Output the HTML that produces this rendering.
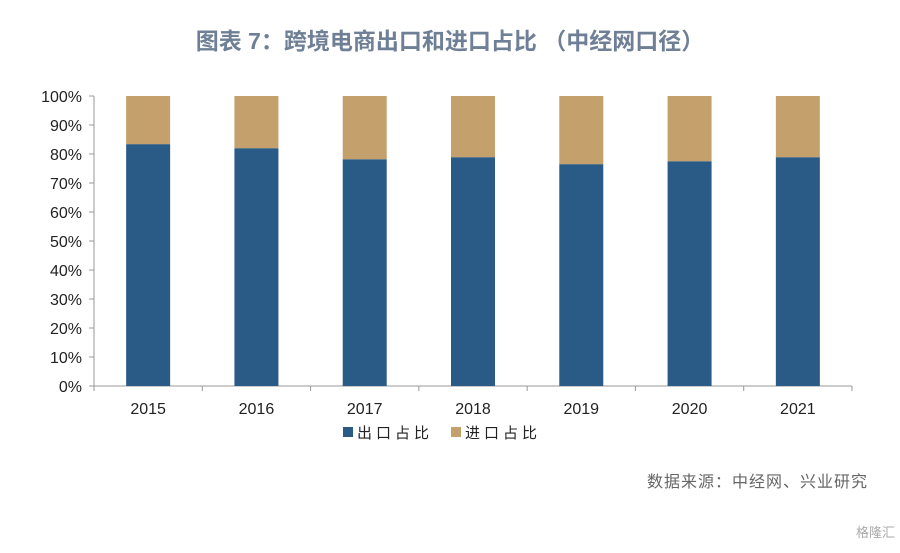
<!DOCTYPE html>
<html><head><meta charset="utf-8"><style>
body{margin:0;background:#fff;width:900px;height:548px;overflow:hidden}
svg{font-family:"Liberation Sans","Noto Sans CJK SC",sans-serif}
</style></head><body>
<svg width="900" height="548">
<text x="450" y="49" text-anchor="middle" font-size="23" font-weight="bold" fill="#6e7f96">图表 7：跨境电商出口和进口占比 （中经网口径）</text>
<g id="axes"></g><g id="bars"></g>
<g>
<rect x="343" y="427" width="10" height="10" fill="#2a5a86"/>
<text x="357" y="438" font-size="15" letter-spacing="4" fill="#222">出口占比</text>
<rect x="451" y="427" width="10" height="10" fill="#c4a06c"/>
<text x="465" y="438" font-size="15" letter-spacing="4" fill="#222">进口占比</text>
</g>
<text x="868" y="487" text-anchor="end" font-size="16" letter-spacing="1" fill="#666">数据来源：中经网、兴业研究</text>
<text x="895" y="537" text-anchor="end" font-size="13" fill="#aaa">格隆汇</text>
</svg>
<script>
const categories=["2015","2016","2017","2018","2019","2020","2021"];
const exportShare=[83.4,82.0,78.2,78.9,76.5,77.5,78.9];
const importShare=exportShare.map(v=>100-v);
const yTicks=[0,10,20,30,40,50,60,70,80,90,100];
const NS="http://www.w3.org/2000/svg";
const x0=94,x1=852,y0=386,y1=96;
const band=(x1-x0)/categories.length;
const y=v=>y0-(v/100)*(y0-y1);
const xc=i=>x0+band*(i+0.5);
function mk(t,a,p){const e=document.createElementNS(NS,t);for(const k in a)e.setAttribute(k,a[k]);p.appendChild(e);return e;}
const ax=document.getElementById('axes'),bs=document.getElementById('bars');
let l=mk('line',{x1:x0,y1:y1,x2:x0,y2:y0,stroke:'#999'},ax);


l=mk('line',{x1:x0,y1:y0,x2:x1,y2:y0,stroke:'#999'},ax);


yTicks.forEach(v=>{
 const tk=mk('line',{x1:x0-5,x2:x0,y1:y(v),y2:y(v),stroke:'#999'},ax);
 
 
 const t=mk('text',{x:x0-12,y:y(v)+6,'text-anchor':'end','font-size':16,fill:'#222'},ax);
 t.textContent=v+'%';
 
 
});
for(let i=0;i<=categories.length;i++){
 const tk=mk('line',{x1:x0+band*i,x2:x0+band*i,y1:y0,y2:y0+5,stroke:'#999'},ax);
 
 
}
const bw=44;
categories.forEach((c,i)=>{
 const b=mk('rect',{x:xc(i)-bw/2,y:y(exportShare[i]),width:bw,height:y0-y(exportShare[i]),fill:'#2a5a86'},bs);
 
 
 const b2=mk('rect',{x:xc(i)-bw/2,y:y(exportShare[i]+importShare[i]),width:bw,height:y(exportShare[i])-y(exportShare[i]+importShare[i]),fill:'#c4a06c'},bs);
 
 
 const t=mk('text',{x:xc(i),y:414,'text-anchor':'middle','font-size':16,fill:'#222'},ax);
 t.textContent=c;
 
 
});
</script>
</body></html>
